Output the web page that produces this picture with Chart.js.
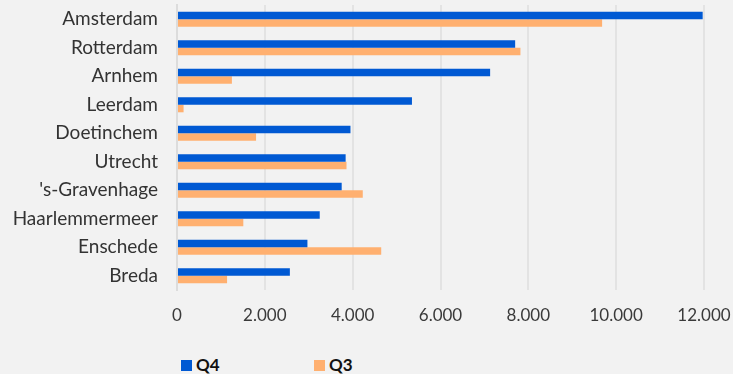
<!DOCTYPE html>
<html>
<head>
<meta charset="utf-8">
<script src="https://cdn.jsdelivr.net/npm/chart.js@4.4.1/dist/chart.umd.min.js"></script>
<style>
  html, body { margin: 0; padding: 0; background: #f2f2f2; overflow: hidden; }
  #wrap { position: relative; width: 733px; height: 374px; }
  #box { position: absolute; left: 0; top: 0; width: 733px; height: 340px; }
  #legend { position: absolute; left: 181px; top: 355px; display: flex; font-family: Lato, sans-serif; font-weight: 700; font-size: 17px; color: #111; }
  .item { display: flex; align-items: center; width: 133px; line-height: 20px; }
  .swatch { width: 11px; height: 11px; margin-right: 4px; }
</style>
</head>
<body>
<div id="wrap">
  <div id="box"><canvas id="chart"></canvas></div>
  <div id="legend"></div>
</div>
<script>
// gemeenten, hoogste Q4 bovenaan
const cities = ["Amsterdam", "Rotterdam", "Arnhem", "Leerdam", "Doetinchem", "Utrecht",
                "'s-Gravenhage", "Haarlemmermeer", "Enschede", "Breda"];
const q4 = [11970, 7700, 7130, 5350, 3950, 3840, 3750, 3250, 2970, 2570];
const q3 = [9680, 7820, 1250, 150, 1800, 3860, 4230, 1510, 4650, 1140];
const xTicks = [0, 2000, 4000, 6000, 8000, 10000, 12000];

const fmt = v => String(v).replace(/\B(?=(\d{3})+(?!\d))/g, ".");

const chart = new Chart(document.getElementById("chart"), {
    type: 'bar',
    data: {
        labels: cities,
        datasets: [
            { label: 'Q4', data: q4, backgroundColor: '#0059d3' },
            { label: 'Q3', data: q3, backgroundColor: '#ffb070' }
        ]
    },
    options: {
        indexAxis: 'y',
        responsive: true,
        maintainAspectRatio: false,
        animation: false,
        datasets: { bar: { barPercentage: 1, categoryPercentage: 0.53 } },
        layout: { padding: { top: 5, right: 29, left: 0, bottom: 0 } },
        plugins: { legend: { display: false }, tooltip: { enabled: false } },
        scales: {
            x: {
                min: 0, max: 12000,
                afterBuildTicks: s => { s.ticks = xTicks.map(v => ({ value: v })); },
                afterFit: s => { s.height = 50; s.paddingLeft = 0; s.paddingRight = 0; },
                grid: { color: '#e3e3e3', lineWidth: 2, drawTicks: false },
                border: { display: false },
                ticks: { padding: 15, color: '#3a3a3a', font: { family: 'Lato', size: 17 }, callback: v => fmt(v) }
            },
            y: {
                afterFit: s => { s.width = 177; s.paddingTop = 0; s.paddingBottom = 0; },
                grid: { display: false, drawTicks: false },
                border: { display: true, color: '#dcdcdc', width: 2 },
                ticks: { padding: 19, color: '#333', font: { family: 'Lato', size: 19 } }
            }
        }
    }
});

// legenda onder de grafiek
const legend = document.getElementById("legend");
chart.data.datasets.forEach(ds => {
    const item = document.createElement("div");
    item.className = "item";
    const sw = document.createElement("span");
    sw.className = "swatch";
    sw.style.background = ds.backgroundColor;
    const txt = document.createElement("span");
    txt.innerText = ds.label;
    item.appendChild(sw);
    item.appendChild(txt);
    legend.appendChild(item);
});
</script>
</body>
</html>
